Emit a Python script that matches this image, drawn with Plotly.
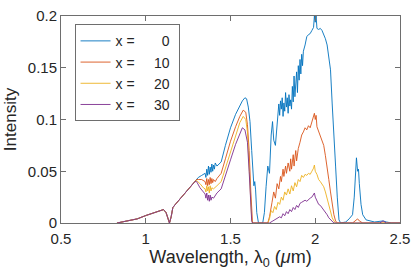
import plotly.graph_objects as go

# shared low-wavelength part (all series overlap here)
common_lam = [0.83, 0.9, 0.95, 1.0, 1.05, 1.09, 1.105, 1.12, 1.13, 1.14, 1.15, 1.16, 1.18, 1.2, 1.23, 1.26, 1.29]
common_val = [0.0, 0.002, 0.004, 0.0072, 0.010, 0.0125, 0.013, 0.010, 0.004, 0.0, 0.006, 0.015, 0.019, 0.023, 0.029, 0.035, 0.040]

lam_x0 = [1.30, 1.31, 1.33, 1.35, 1.355, 1.36, 1.365, 1.37, 1.375, 1.38, 1.385, 1.39, 1.395, 1.40, 1.405, 1.41, 1.42, 1.445,
          1.47, 1.50, 1.53, 1.55, 1.57, 1.585, 1.595, 1.605, 1.615, 1.625, 1.632, 1.638, 1.643, 1.648, 1.655, 1.665,
          1.69, 1.70, 1.71, 1.72, 1.73, 1.74, 1.748, 1.755, 1.765, 1.775, 1.785, 1.79, 1.795, 1.80, 1.805, 1.81, 1.815,
          1.82, 1.825, 1.83, 1.835, 1.84, 1.845, 1.85, 1.855, 1.86, 1.865, 1.87, 1.875, 1.88, 1.885, 1.89, 1.895, 1.90,
          1.905, 1.91, 1.915, 1.92, 1.925, 1.93, 1.94, 1.95, 1.96, 1.97, 1.98, 1.99, 1.995, 2.0, 2.005, 2.01, 2.02,
          2.03, 2.04, 2.05, 2.06, 2.07, 2.08, 2.09, 2.10, 2.11, 2.12, 2.13, 2.14, 2.15, 2.18, 2.20, 2.22, 2.23, 2.235,
          2.243, 2.25, 2.255, 2.26, 2.27, 2.28, 2.30, 2.35, 2.40, 2.42, 2.45, 2.5]
val_x0 = [0.043, 0.044, 0.046, 0.048, 0.044, 0.052, 0.046, 0.055, 0.047, 0.054, 0.049, 0.057, 0.050, 0.056, 0.052, 0.058, 0.055, 0.059,
          0.075, 0.092, 0.105, 0.112, 0.118, 0.121, 0.120, 0.112, 0.098, 0.070, 0.045, 0.036, 0.040, 0.032, 0.010, 0.0,
          0.0, 0.010, 0.035, 0.055, 0.048, 0.085, 0.098, 0.080, 0.075, 0.095, 0.115, 0.104, 0.118, 0.110, 0.121, 0.103, 0.116,
          0.108, 0.126, 0.112, 0.121, 0.106, 0.124, 0.113, 0.119, 0.110, 0.132, 0.117, 0.142, 0.122, 0.135, 0.146, 0.126, 0.152,
          0.138, 0.158, 0.144, 0.163, 0.152, 0.166, 0.172, 0.180, 0.182, 0.183, 0.186, 0.189, 0.200, 0.194, 0.200, 0.188, 0.187,
          0.188, 0.186, 0.182, 0.178, 0.172, 0.160, 0.148, 0.115, 0.090, 0.055, 0.025, 0.003, 0.0, 0.001, 0.004, 0.008, 0.025, 0.045,
          0.063, 0.050, 0.052, 0.038, 0.018, 0.008, 0.003, 0.001, 0.002, 0.001, 0.0, 0.0]

lam_x10 = [1.30, 1.31, 1.33, 1.35, 1.355, 1.36, 1.365, 1.37, 1.375, 1.38, 1.385, 1.39, 1.395, 1.40, 1.41, 1.42, 1.445,
           1.47, 1.50, 1.53, 1.555, 1.575, 1.59, 1.60, 1.61, 1.62, 1.625, 1.63, 1.72, 1.73, 1.745, 1.755, 1.765, 1.775,
           1.785, 1.795, 1.80, 1.81, 1.815, 1.825, 1.83, 1.84, 1.85, 1.855, 1.86, 1.87, 1.875, 1.885, 1.89, 1.90, 1.91,
           1.92, 1.93, 1.94, 1.95, 1.96, 1.97, 1.98, 1.99, 1.995, 2.0, 2.005, 2.01, 2.02, 2.03, 2.04, 2.05, 2.06, 2.07,
           2.08, 2.09, 2.10, 2.11, 2.12, 2.13, 2.22, 2.24, 2.25, 2.26, 2.28, 2.5]
val_x10 = [0.042, 0.042, 0.042, 0.040, 0.037, 0.043, 0.036, 0.042, 0.037, 0.044, 0.038, 0.043, 0.039, 0.042, 0.040, 0.043, 0.048,
           0.062, 0.079, 0.093, 0.103, 0.109, 0.107, 0.095, 0.070, 0.030, 0.005, 0.0, 0.0, 0.006, 0.020, 0.030, 0.024, 0.038,
           0.033, 0.045, 0.040, 0.052, 0.045, 0.055, 0.048, 0.058, 0.050, 0.062, 0.052, 0.066, 0.055, 0.070, 0.060, 0.072, 0.078,
           0.085, 0.088, 0.092, 0.090, 0.094, 0.092, 0.097, 0.102, 0.106, 0.100, 0.104, 0.093, 0.088, 0.083, 0.080, 0.075, 0.065, 0.055,
           0.042, 0.030, 0.018, 0.008, 0.002, 0.0, 0.0, 0.003, 0.004, 0.002, 0.0, 0.0]

lam_x20 = [1.30, 1.32, 1.34, 1.35, 1.355, 1.36, 1.365, 1.37, 1.375, 1.38, 1.385, 1.39, 1.40, 1.41, 1.42, 1.445,
           1.47, 1.50, 1.53, 1.555, 1.575, 1.59, 1.60, 1.61, 1.62, 1.625, 1.63, 1.72, 1.73, 1.74, 1.75, 1.76, 1.77,
           1.78, 1.79, 1.80, 1.81, 1.82, 1.83, 1.84, 1.85, 1.86, 1.87, 1.88, 1.89, 1.90, 1.91, 1.92, 1.93, 1.94, 1.95,
           1.96, 1.97, 1.98, 1.99, 1.995, 2.0, 2.01, 2.02, 2.03, 2.04, 2.05, 2.06, 2.07, 2.08, 2.09, 2.10, 2.11, 2.12, 2.5]
val_x20 = [0.041, 0.038, 0.034, 0.033, 0.030, 0.036, 0.031, 0.035, 0.029, 0.036, 0.031, 0.034, 0.033, 0.035, 0.036, 0.040,
           0.053, 0.070, 0.085, 0.097, 0.103, 0.100, 0.088, 0.060, 0.020, 0.004, 0.0, 0.0, 0.004, 0.012, 0.010, 0.016, 0.013,
           0.020, 0.018, 0.025, 0.022, 0.030, 0.027, 0.033, 0.028, 0.036, 0.031, 0.039, 0.035, 0.042, 0.040, 0.046, 0.044, 0.047, 0.046,
           0.048, 0.047, 0.050, 0.053, 0.056, 0.050, 0.047, 0.042, 0.040, 0.037, 0.035, 0.030, 0.024, 0.017, 0.010, 0.005, 0.002, 0.0, 0.0]

lam_x30 = [1.30, 1.32, 1.34, 1.35, 1.355, 1.36, 1.365, 1.37, 1.375, 1.38, 1.385, 1.39, 1.40, 1.41, 1.42, 1.445,
           1.47, 1.50, 1.53, 1.555, 1.57, 1.585, 1.60, 1.61, 1.62, 1.625, 1.63, 1.73, 1.75, 1.77, 1.79, 1.80, 1.81,
           1.82, 1.83, 1.84, 1.85, 1.86, 1.87, 1.88, 1.89, 1.90, 1.91, 1.92, 1.93, 1.94, 1.95, 1.96, 1.97, 1.98, 1.99,
           1.995, 2.0, 2.01, 2.02, 2.03, 2.04, 2.05, 2.06, 2.07, 2.08, 2.09, 2.10, 2.11, 2.38, 2.40, 2.42, 2.5]
val_x30 = [0.040, 0.034, 0.030, 0.028, 0.024, 0.029, 0.022, 0.027, 0.021, 0.027, 0.022, 0.025, 0.024, 0.027, 0.029, 0.033,
           0.045, 0.061, 0.076, 0.087, 0.092, 0.090, 0.078, 0.050, 0.015, 0.002, 0.0, 0.0, 0.002, 0.004, 0.006, 0.005, 0.009,
           0.007, 0.011, 0.009, 0.013, 0.011, 0.015, 0.013, 0.017, 0.015, 0.019, 0.020, 0.021, 0.022, 0.021, 0.023, 0.024, 0.025, 0.027,
           0.029, 0.025, 0.021, 0.018, 0.017, 0.015, 0.013, 0.011, 0.008, 0.005, 0.003, 0.001, 0.0, 0.0, 0.002, 0.0, 0.0]

x_tick_vals = [0.5, 1, 1.5, 2, 2.5]
x_tick_text = ["0.5", "1", "1.5", "2", "2.5"]
y_tick_vals = [0, 0.05, 0.1, 0.15, 0.2]
y_tick_text = ["0", "0.05", "0.1", "0.15", "0.2"]

sp = "\u00a0"
names = ["x =" + sp * 7 + "0" + sp, "x =" + sp * 5 + "10" + sp, "x =" + sp * 5 + "20" + sp, "x =" + sp * 5 + "30" + sp]
colors = ["#0072BD", "#D95319", "#EDB120", "#7E2F8E"]
series = [(lam_x0, val_x0), (lam_x10, val_x10), (lam_x20, val_x20), (lam_x30, val_x30)]

fig = go.Figure()
for (lam, val), name, c in zip(series, names, colors):
    fig.add_trace(go.Scatter(x=common_lam + lam, y=common_val + val, mode="lines", name=name,
                             line=dict(color=c, width=0.9)))

axis_common = dict(showline=True, linecolor="#6e6e6e", linewidth=1, mirror="ticks", ticks="inside",
                   ticklen=5, tickcolor="#6e6e6e", showgrid=False, zeroline=False, ticklabeloverflow="allow",
                   tickfont=dict(family="Liberation Sans, Arial", size=15, color="#262626"))

fig.update_layout(
    width=417, height=276, margin=dict(l=61, r=12, t=7, b=53),
    paper_bgcolor="white", plot_bgcolor="white",
    font=dict(family="Liberation Sans, Arial", color="#262626"),
    xaxis=dict(range=[0.5, 2.5], tickvals=x_tick_vals, ticktext=x_tick_text, ticklabelstandoff=2,
               title=dict(text="Wavelength, λ<sub>0</sub> (<i>μ</i>m)", font=dict(size=18), standoff=2), **axis_common),
    yaxis=dict(range=[0, 0.2], tickvals=y_tick_vals, ticktext=y_tick_text,
               title=dict(text="Intensity", font=dict(size=17), standoff=6), **axis_common),
    legend=dict(x=0.04, y=0.96, xanchor="left", yanchor="top", bordercolor="#6e6e6e", borderwidth=1,
                bgcolor="white", font=dict(size=14, color="#262626")),
    showlegend=True,
)

fig.write_html("out.html")
